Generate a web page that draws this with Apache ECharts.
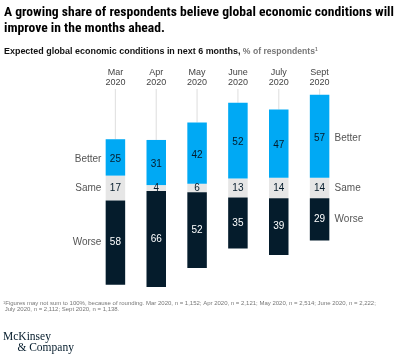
<!DOCTYPE html>
<html><head><meta charset="utf-8">
<script src="https://cdn.jsdelivr.net/npm/echarts@6/dist/echarts.min.js"></script>
<style>html,body{margin:0;padding:0;background:#fff}#c{width:396px;height:361px}</style>
</head><body><div id="c"></div>
<script>
const categories = ['Mar\n2020','Apr\n2020','May\n2020','June\n2020','July\n2020','Sept\n2020'];
const better = [25,31,42,52,47,57];
const same = [17,4,6,13,14,14];
const worse = [58,66,52,35,39,29];
const segNames = ['Better','Same','Worse'];

const BLUE='#00a9f4', GREY='#e6e6e6', DARK='#051c2c';
const AXMAX = 68;
const FONT = '"Liberation Sans", Arial, sans-serif';
const NARROW = '"Liberation Sans Narrow", "Roboto Condensed", "Liberation Sans", sans-serif';

const chart = echarts.init(document.getElementById('c'));
const n = categories.length;
chart.setOption({
  animation:false,
  textStyle:{fontFamily:FONT},
  title:[
    {text:'A growing share of respondents believe global economic conditions will\nimprove in the months ahead.',
     left:4, top:4, padding:0, textStyle:{fontSize:13.6, fontWeight:'bold', color:'#000', lineHeight:16.5, fontFamily:NARROW}},
    {text:'{b|Expected global economic conditions in next 6 months, }{g|% of respondents}{s|1}',
     left:4, top:47, padding:0, textStyle:{rich:{
       b:{fontSize:8.95,fontWeight:'bold',color:'#111',fontFamily:FONT},
       g:{fontSize:8.6,color:'#777',fontFamily:FONT},
       s:{fontSize:5,color:'#777',fontFamily:FONT,padding:[0,0,5,0]}}}},
    {text:'{s|1}Figures may not sum to 100%, because of rounding. Mar 2020, n = 1,152; Apr 2020, n = 2,121; May 2020, n = 2,514; June 2020, n = 2,222;\n July 2020, n = 2,112; Sept 2020, n = 1,138.',
     left:3, top:300, padding:0, textStyle:{fontSize:6, color:'#777', lineHeight:6.5, fontWeight:'normal', fontFamily:FONT,
       rich:{s:{fontSize:4,color:'#777',fontFamily:FONT}}}},
    {text:'McKinsey\n     & Company', left:3, top:331, padding:0,
     textStyle:{fontSize:11.5, color:'#051c2c', fontWeight:'normal', lineHeight:11, fontFamily:'"Liberation Serif", "DejaVu Serif", serif'}}
  ],
  grid:{left:95, right:56, top:89, height:198},
  xAxis:{type:'category', data:categories, position:'top',
    axisLine:{show:false}, axisTick:{show:false},
    axisLabel:{fontSize:9, color:'#444', lineHeight:9.5, margin:2, interval:0, fontFamily:FONT}},
  yAxis:{type:'value', min:-AXMAX, max:AXMAX, show:false, splitLine:{show:false}},
  series:[
    {type:'custom', silent:true, z:1,
     renderItem:(p,api)=>{
       const i=api.value(0);
       const a=api.coord([i,AXMAX]); const b=api.coord([i, same[i]/2+better[i]]);
       return {type:'line', shape:{x1:a[0],y1:a[1],x2:b[0],y2:b[1]}, style:{stroke:'#e3e3e3', lineWidth:1.2}};
     }, data:categories.map((c,i)=>[i])},
    {name:'sameUp', type:'bar', stack:'s', barWidth:19.5, z:2, itemStyle:{color:GREY}, data:same.map(v=>v/2)},
    {name:'Better', type:'bar', stack:'s', barWidth:19.5, z:2, itemStyle:{color:BLUE},
     label:{show:true, position:'inside', offset:[0,2], color:DARK, fontSize:10, formatter:p=>better[p.dataIndex]}, data:better},
    {name:'sameDown', type:'bar', stack:'s', barWidth:19.5, z:2, itemStyle:{color:GREY}, data:same.map(v=>-v/2)},
    {name:'Worse', type:'bar', stack:'s', barWidth:19.5, z:2, itemStyle:{color:DARK},
     label:{show:true, position:'inside', color:'#fff', fontSize:10, formatter:p=>worse[p.dataIndex]}, data:worse.map(v=>-v)},
    {type:'custom', silent:true, z:5,
     renderItem:(p,api)=>{
       const i=api.value(0);
       const c=api.coord([i,0]);
       const children=[{type:'text', style:{text:String(same[i]), x:c[0], y:c[1], align:'center', verticalAlign:'middle', fontSize:10, fill:DARK, fontFamily:FONT}}];
       if(i===0||i===n-1){
         const ys=[same[i]/2+better[i]/2, 0, -same[i]/2-worse[i]/2];
         const left = i===0;
         segNames.forEach((nm,k)=>{
           const pt=api.coord([i,ys[k]]);
           children.push({type:'text', style:{text:nm, x: left? pt[0]-14 : pt[0]+15, y:pt[1]+(k===0?1.5:0), align: left?'right':'left', verticalAlign:'middle', fontSize:10, fill:'#555', fontFamily:FONT}});
         });
       }
       return {type:'group', children};
     }, data:categories.map((c,i)=>[i])}
  ]
});
</script></body></html>
